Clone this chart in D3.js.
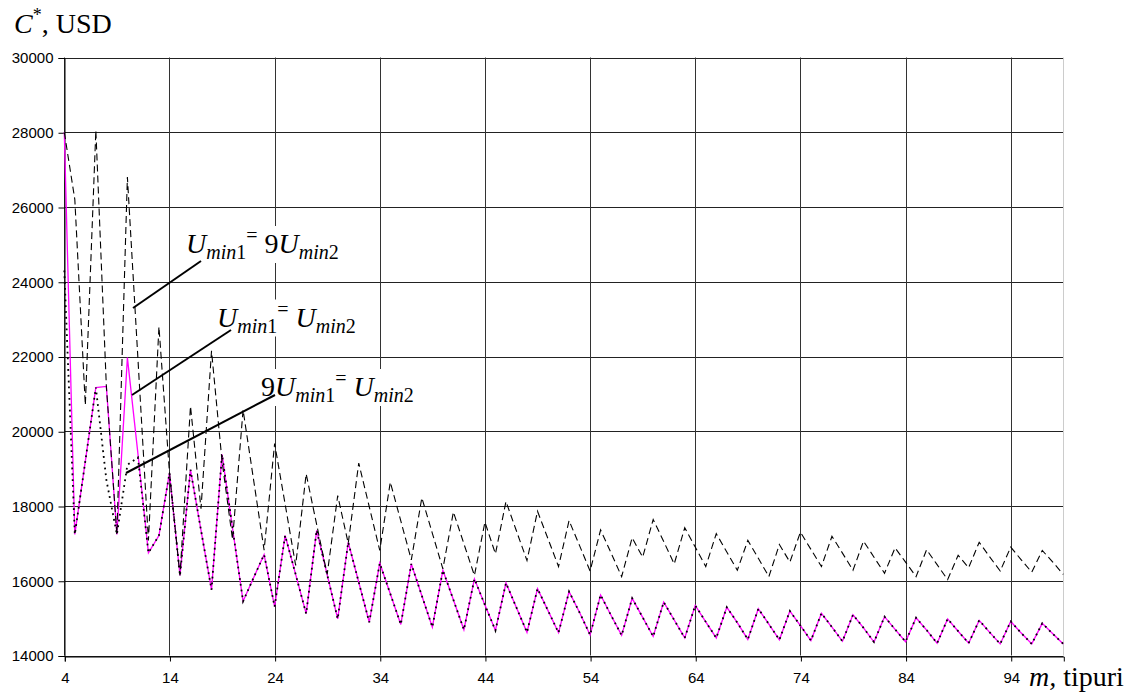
<!DOCTYPE html>
<html>
<head>
<meta charset="utf-8">
<script src="https://cdn.jsdelivr.net/npm/d3@7"></script>
<style>
  body { margin: 0; background: #fff; }
  svg { display: block; }
</style>
</head>
<body>
<svg id="chart" width="1139" height="693"></svg>
<script>
// m, number of types (category axis)
const mValues = d3.range(4, 100);

// Umin1 = Umin2 (magenta, solid)
const costEqual = [
  28000, 17240, 19200, 21170, 21200, 17240, 21970, 19400, 16750, 17210,
  18880, 16140, 18970, 17350, 15760, 19380, 17400, 15450, 16080, 16700,
  15310, 17210, 16170, 15120, 17350, 16160, 14980, 17030, 15960, 14890,
  16470, 15650, 14830, 16450, 15600, 14760, 16280, 15490, 14690, 16050,
  15350, 14670, 15940, 15280, 14620, 15790, 15200, 14610, 15710, 15150,
  14550, 15620, 15070, 14540, 15530, 15020, 14510, 15430, 14950, 14470,
  15340, 14900, 14470, 15290, 14880, 14430, 15250, 14840, 14420, 15190,
  14800, 14400, 15130, 14760, 14380, 15090, 14740, 14360, 15040, 14700,
  14370, 15010, 14680, 14330, 14980, 14650, 14330, 14940, 14620, 14310,
  14910, 14600, 14310, 14860, 14580, 14310
];

// 9 Umin1 = Umin2 (black, dotted)
const costNineU1 = [
  24300, 17240, 19200, 21170, 18700, 17240, 19100, 19300, 16750, 17210,
  18880, 16140, 18970, 17350, 15760, 19380, 17400, 15450, 16080, 16700,
  15310, 17210, 16170, 15120, 17350, 16160, 14980, 17030, 15960, 14890,
  16470, 15650, 14830, 16450, 15600, 14760, 16280, 15490, 14690, 16050,
  15350, 14670, 15940, 15280, 14620, 15790, 15200, 14610, 15710, 15150,
  14550, 15620, 15070, 14540, 15530, 15020, 14510, 15430, 14950, 14470,
  15340, 14900, 14470, 15290, 14880, 14430, 15250, 14840, 14420, 15190,
  14800, 14400, 15130, 14760, 14380, 15090, 14740, 14360, 15040, 14700,
  14370, 15010, 14680, 14330, 14980, 14650, 14330, 14940, 14620, 14310,
  14910, 14600, 14310, 14860, 14580, 14310
];

// Umin1 = 9 Umin2 (black, dashed)
const costNineU2 = [
  28000, 26200, 20700, 28050, 21200, 17240, 26800, 21950, 17080, 22800,
  18900, 16140, 20670, 17930, 22150, 19200, 17100, 20570, 18700, 16820,
  19670, 18050, 16410, 18860, 17500, 16170, 18280, 17000, 19150, 17980,
  16810, 18640, 17600, 16560, 18220, 17270, 16320, 17840, 16990, 16140,
  17570, 16720, 18120, 17330, 16540, 17860, 17120, 16380, 17610, 16940,
  16260, 17360, 16740, 16110, 17150, 16630, 17640, 17050, 16450, 17420,
  16900, 16380, 17260, 16770, 16280, 17080, 16600, 16110, 16970, 16500,
  17300, 16840, 16380, 17190, 16740, 16280, 17060, 16630, 16200, 16880,
  16500, 16110, 16830, 16430, 16030, 16680, 16350, 17030, 16640, 16260,
  16900, 16560, 16230, 16810, 16500, 16170
];

const xTicks = [4, 14, 24, 34, 44, 54, 64, 74, 84, 94];
const yTicks = [14000, 16000, 18000, 20000, 22000, 24000, 26000, 28000, 30000];

const svg = d3.select("#chart");
const plotLeft = 64.3, plotRight = 1063.3, plotTop = 57.5, plotBottom = 655.5;

const x = d3.scaleLinear().domain([4, 99]).range([plotLeft, plotRight]);
const y = d3.scaleLinear().domain([14000, 30000]).range([plotBottom, plotTop]);

// grid
svg.append("g")
  .selectAll("line")
  .data(yTicks)
  .join("line")
  .attr("x1", plotLeft).attr("x2", plotRight)
  .attr("y1", d => Math.round(y(d)) + 0.5).attr("y2", d => Math.round(y(d)) + 0.5)
  .attr("stroke", "#222").attr("stroke-width", 1);

svg.append("g")
  .selectAll("line")
  .data(xTicks)
  .join("line")
  .attr("x1", d => Math.round(x(d)) + 0.5).attr("x2", d => Math.round(x(d)) + 0.5)
  .attr("y1", plotTop).attr("y2", plotBottom)
  .attr("stroke", "#333").attr("stroke-width", 1);

// light right border of plot
svg.append("line")
  .attr("x1", Math.round(plotRight) + 0.5).attr("x2", Math.round(plotRight) + 0.5)
  .attr("y1", plotTop).attr("y2", plotBottom)
  .attr("stroke", "#ccc");

// axes
const yAxis = d3.axisLeft(y).tickValues(yTicks).tickFormat(d3.format("d")).tickSize(6).tickPadding(5);
const gy = svg.append("g").attr("transform", `translate(${Math.round(plotLeft) + 0.5},0.5)`).call(yAxis);
gy.select(".domain").attr("stroke", "#000");
gy.selectAll(".tick line").attr("stroke", "#000");
gy.selectAll("text").attr("font-family", "Liberation Sans, Arial, sans-serif").attr("font-size", 15).attr("fill", "#000");

const xAxis = d3.axisBottom(x).tickValues(xTicks).tickFormat(d3.format("d")).tickSize(5).tickPadding(11);
const gx = svg.append("g").attr("transform", `translate(0.5,${Math.round(plotBottom) + 0.5})`).call(xAxis);
gx.select(".domain").attr("stroke", "#000");
gx.selectAll(".tick line").attr("stroke", "#000");
gx.selectAll("text").attr("font-family", "Liberation Sans, Arial, sans-serif").attr("font-size", 15).attr("fill", "#000");

// annotation labels (white box behind, hides grid)
const serif = "Liberation Serif, Times New Roman, serif";
function mathLabel(parts, px, py) {
  const g = svg.append("g");
  const t = g.append("text").attr("x", px).attr("y", py)
    .attr("font-family", serif).attr("fill", "#000");
  parts.forEach(p => {
    t.append("tspan")
      .attr("font-size", p.size || 28)
      .attr("font-style", p.italic ? "italic" : "normal")
      .attr("dy", p.dy || 0)
      .text(p.text);
  });
  const b = t.node().getBBox();
  g.insert("rect", "text")
    .attr("x", b.x - 2).attr("y", b.y + 2)
    .attr("width", b.width + 4).attr("height", b.height - 2)
    .attr("fill", "#fff");
}

mathLabel([
  { text: "U", italic: true },
  { text: "min", italic: true, size: 20, dy: 6 },
  { text: "1", size: 20 },
  { text: "=", size: 20, dy: -17 },
  { text: " 9", dy: 11 },
  { text: "U", italic: true },
  { text: "min", italic: true, size: 20, dy: 6 },
  { text: "2", size: 20 }
], 186, 253);

mathLabel([
  { text: "U", italic: true },
  { text: "min", italic: true, size: 20, dy: 6 },
  { text: "1", size: 20 },
  { text: "=", size: 20, dy: -17 },
  { text: " ", dy: 11 },
  { text: "U", italic: true },
  { text: "min", italic: true, size: 20, dy: 6 },
  { text: "2", size: 20 }
], 217, 326.5);

mathLabel([
  { text: "9" },
  { text: "U", italic: true },
  { text: "min", italic: true, size: 20, dy: 6 },
  { text: "1", size: 20 },
  { text: "=", size: 20, dy: -17 },
  { text: " ", dy: 11 },
  { text: "U", italic: true },
  { text: "min", italic: true, size: 20, dy: 6 },
  { text: "2", size: 20 }
], 261, 396);

// series
const line = d3.line().x((d, i) => x(mValues[i])).y(d => y(d));

svg.append("path").datum(costEqual)
  .attr("d", line).attr("fill", "none")
  .attr("stroke", "#ff00ff").attr("stroke-width", 1.3);

svg.append("path").datum(costNineU1)
  .attr("d", line).attr("fill", "none")
  .attr("stroke", "#000").attr("stroke-width", 1.8)
  .attr("stroke-dasharray", "1.8,4");

svg.append("path").datum(costNineU2)
  .attr("d", line).attr("fill", "none")
  .attr("stroke", "#000").attr("stroke-width", 1.1)
  .attr("stroke-dasharray", "7,4");

// leader lines
const leaders = [
  [201, 261, 133, 308],
  [231, 330, 132, 395],
  [275, 395, 126, 473]
];
svg.append("g").selectAll("line").data(leaders).join("line")
  .attr("x1", d => d[0]).attr("y1", d => d[1])
  .attr("x2", d => d[2]).attr("y2", d => d[3])
  .attr("stroke", "#000").attr("stroke-width", 2);

// axis titles
const yt = svg.append("text").attr("x", 14).attr("y", 33)
  .attr("font-family", serif).attr("font-size", 28).attr("fill", "#000");
yt.append("tspan").attr("font-style", "italic").text("C");
yt.append("tspan").attr("font-size", 18).attr("dy", -12).text("*");
yt.append("tspan").attr("dy", 12).text(", USD");

const xt = svg.append("text").attr("x", 1029).attr("y", 686)
  .attr("font-family", serif).attr("font-size", 28).attr("fill", "#000");
xt.append("tspan").attr("font-style", "italic").text("m,");
xt.append("tspan").text(" tipuri");
</script>
</body>
</html>
